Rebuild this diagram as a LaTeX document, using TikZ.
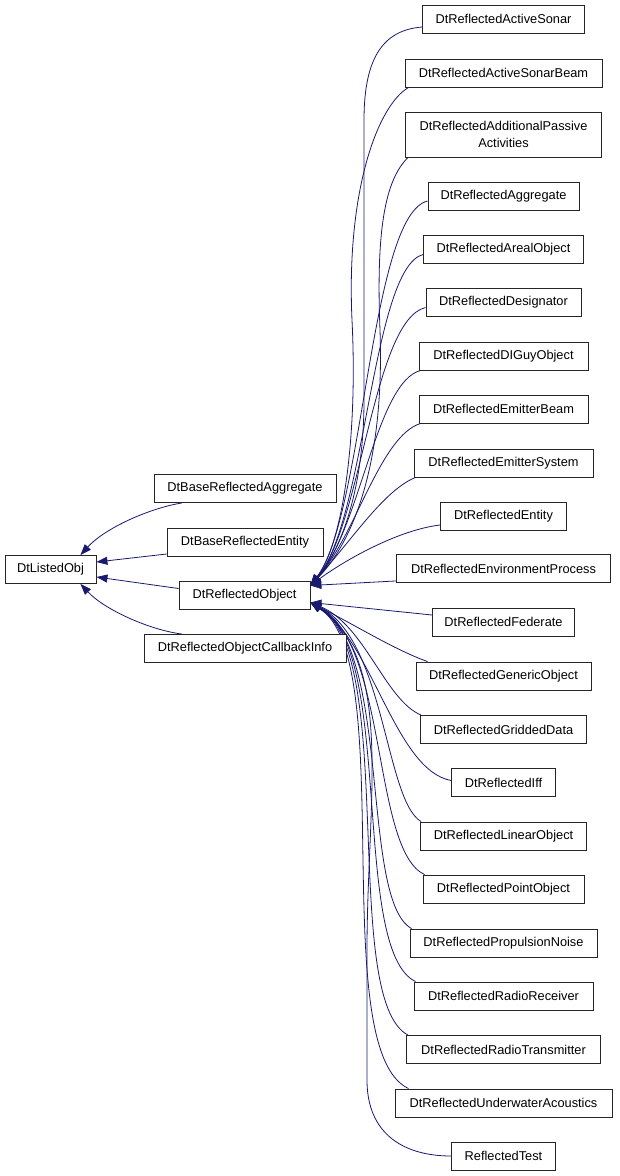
\documentclass[tikz,border=0pt]{standalone}
\usepackage{fontspec}
\setmainfont{Liberation Sans}
\usetikzlibrary{arrows.meta,backgrounds}
\definecolor{edgec}{HTML}{191970}
\tikzset{
  cls/.style={draw=black!85, line width=0.9pt, fill=white, inner sep=0pt,
    minimum height=28pt, font=\fontsize{12.8}{17}\selectfont, align=center},
  inh/.style={draw=edgec, line width=0.8pt,
    {Triangle[length=11pt,width=8pt,fill=edgec]}-}
}
\begin{document}
\begin{tikzpicture}[x=1pt,y=-1pt]
\useasboundingbox (0,0) rectangle (619,1176);
% left column
\node[cls, minimum width=91pt]  (lo)  at (50.5,569.5) {DtListedObj};
\node[cls, minimum width=182pt] (bra) at (245,488.5) {DtBaseReflectedAggregate};
\node[cls, minimum width=156pt] (bre) at (245,542) {DtBaseReflectedEntity};
\node[cls, minimum width=131pt] (ro)  at (244.5,595.5) {DtReflectedObject};
\node[cls, minimum width=202pt] (cb)  at (245,648.5) {DtReflectedObjectCallbackInfo};
% right column
\node[cls, minimum width=162pt] (r1)  at (503.5,19) {DtReflectedActiveSonar};
\node[cls, minimum width=197pt] (r2)  at (503.5,73) {DtReflectedActiveSonarBeam};
\node[cls, minimum width=196pt, minimum height=45pt] (r3) at (503.5,134.5) {DtReflectedAdditionalPassive\\Activities};
\node[cls, minimum width=151pt] (r4)  at (503.5,196) {DtReflectedAggregate};
\node[cls, minimum width=160pt] (r5)  at (503.5,249.5) {DtReflectedArealObject};
\node[cls, minimum width=155pt] (r6)  at (503.5,302.5) {DtReflectedDesignator};
\node[cls, minimum width=169pt] (r7)  at (503.5,356) {DtReflectedDIGuyObject};
\node[cls, minimum width=169pt] (r8)  at (503.5,409) {DtReflectedEmitterBeam};
\node[cls, minimum width=179pt] (r9)  at (503.5,463) {DtReflectedEmitterSystem};
\node[cls, minimum width=126pt] (r10) at (503.5,516) {DtReflectedEntity};
\node[cls, minimum width=214pt] (r11) at (503.5,568.5) {DtReflectedEnvironmentProcess};
\node[cls, minimum width=142pt] (r12) at (503.5,622) {DtReflectedFederate};
\node[cls, minimum width=175pt] (r13) at (503.5,676) {DtReflectedGenericObject};
\node[cls, minimum width=166pt] (r14) at (503.5,729.5) {DtReflectedGriddedData};
\node[cls, minimum width=104pt] (r15) at (503.5,782.5) {DtReflectedIff};
\node[cls, minimum width=166pt] (r16) at (503.5,836) {DtReflectedLinearObject};
\node[cls, minimum width=161pt] (r17) at (503.5,889) {DtReflectedPointObject};
\node[cls, minimum width=187pt] (r18) at (503.5,943) {DtReflectedPropulsionNoise};
\node[cls, minimum width=179pt] (r19) at (503.5,996) {DtReflectedRadioReceiver};
\node[cls, minimum width=194pt] (r20) at (503.5,1049.5) {DtReflectedRadioTransmitter};
\node[cls, minimum width=217pt] (r21) at (503.5,1103) {DtReflectedUnderwaterAcoustics};
\node[cls, minimum width=104pt] (r22) at (503.5,1156) {ReflectedTest};
% tips on DtReflectedObject
\coordinate (tu) at ([yshift=10pt]ro.east);
\coordinate (tl) at ([yshift=-7pt]ro.east);
\begin{pgfonlayer}{background}
% edges to DtListedObj
\draw[inh] ([xshift=-16pt]lo.north east) .. controls (105,528) and (150,508) .. ([xshift=-63pt]bra.south);
\draw[inh] ([yshift=7.5pt]lo.east) -- ([yshift=-12pt]bre.west);
\draw[inh] ([yshift=-7.5pt]lo.east) -- ([yshift=7pt]ro.west);
\draw[inh] ([xshift=-16pt]lo.south east) .. controls (105,610) and (150,630) .. ([xshift=-63pt]cb.north);
% upper edges to DtReflectedObject
\draw[inh] (tu) .. controls (345,545) and (364,480) .. (364,400) -- (364,120)
  .. controls (364,55) and (385,30) .. ([yshift=-8pt]r1.west);
\draw[inh] (tu) .. controls (342,545) and (358,440) .. (352,320)
  .. controls (346,190) and (378,105) .. ([xshift=4pt]r2.south west);
\draw[inh] (tu) .. controls (350,545) and (385,470) .. (380,330)
  .. controls (376,230) and (385,180) .. ([xshift=3pt]r3.south west);
\draw[inh] (tu) .. controls (364,515) and (370,215) .. ([yshift=-5pt]r4.west);
\draw[inh] (tu) .. controls (366,520) and (372,268) .. ([yshift=-5pt]r5.west);
\draw[inh] (tu) .. controls (362,525) and (373,320) .. ([yshift=-5pt]r6.west);
\draw[inh] (tu) .. controls (360,530) and (376,382) .. ([xshift=2pt]r7.south west);
\draw[inh] (tu) .. controls (356,535) and (380,436) .. ([xshift=2pt]r8.south west);
\draw[inh] (tu) .. controls (352,540) and (384,490) .. ([xshift=2pt]r9.south west);
\draw[inh] (tu) .. controls (345,560) and (398,530) .. ([yshift=-9pt]r10.west);
\draw[inh] (tu) -- ([yshift=2pt]r11.south west);
% lower edges
\draw[inh] (tl) -- ([yshift=7pt]r12.west);
\draw[inh] (tl) .. controls (355,625) and (395,650) .. ([xshift=12pt]r13.north west);
\draw[inh] (tl) .. controls (365,625) and (385,700) .. ([xshift=1pt]r14.north west);
\draw[inh] (tl) .. controls (372,640) and (395,770) .. ([yshift=2pt]r15.west);
\draw[inh] (tl) .. controls (385,640) and (385,800) .. ([xshift=1pt]r16.north west);
\draw[inh] (tl) .. controls (388,645) and (372,850) .. ([xshift=2pt]r17.north west);
\draw[inh] (tl) .. controls (392,650) and (360,900) .. ([xshift=2pt]r18.north west);
\draw[inh] (tl) .. controls (395,650) and (350,950) .. ([xshift=2pt]r19.north west);
\draw[inh] (tl) .. controls (398,655) and (340,1000) .. ([xshift=2pt]r20.north west);
\draw[inh] (tl) .. controls (400,660) and (325,1050) .. ([xshift=14pt]r21.north west);
\draw[inh] (tl) .. controls (395,660) and (367,800) .. (367,950) -- (367,1080)
  .. controls (367,1135) and (405,1156) .. (r22.west);
\end{pgfonlayer}
\end{tikzpicture}
\end{document}
